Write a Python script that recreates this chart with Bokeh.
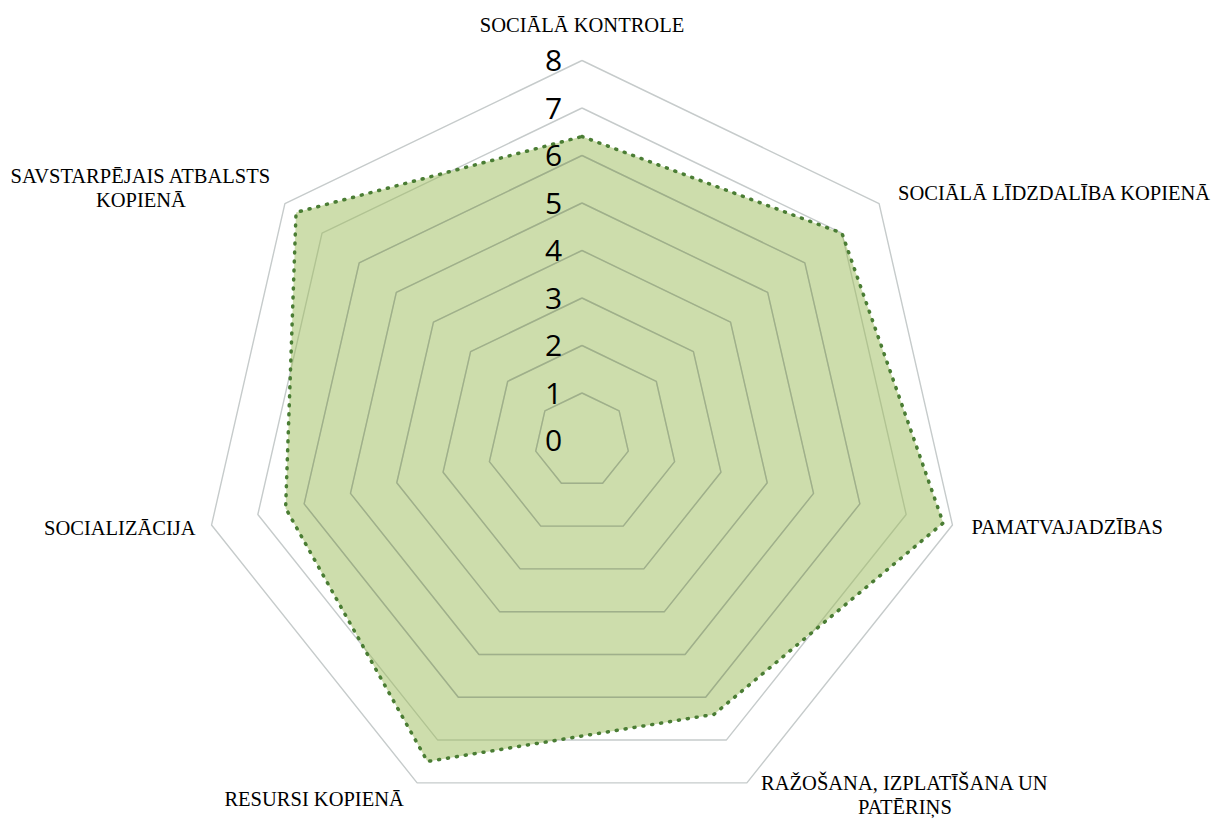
import math
from bokeh.plotting import figure
from bokeh.models import Range1d, ColumnDataSource
from bokeh.core.properties import value
from bokeh.embed import file_html
from bokeh.resources import INLINE

# ---- data ----
categories = [
    "SOCIĀLĀ KONTROLE",
    "SOCIĀLĀ LĪDZDALĪBA KOPIENĀ",
    "PAMATVAJADZĪBAS",
    "RAŽOŠANA, IZPLATĪŠANA UN\nPATĒRIŅS",
    "RESURSI KOPIENĀ",
    "SOCIALIZĀCIJA",
    "SAVSTARPĒJAIS ATBALSTS\nKOPIENĀ",
]
scores = [6.4, 7.0, 7.8, 6.4, 7.5, 6.4, 7.7]
tick_values = [0, 1, 2, 3, 4, 5, 6, 7, 8]
tick_labels = ["0", "1", "2", "3", "4", "5", "6", "7", "8"]

# ---- geometry ----
W, H = 1216, 819
PX = 47.5              # pixels per unit
CX, CY = 581.5, 440.0  # centre in figure pixels (from top-left)
n = len(categories)
angles = [2 * math.pi * k / n for k in range(n)]

def pt(r, a):
    return r * math.sin(a), r * math.cos(a)

p = figure(width=W, height=H, output_backend="svg", toolbar_location=None,
           x_range=Range1d(-CX / PX, (W - CX) / PX),
           y_range=Range1d(-(H - CY) / PX, CY / PX),
           min_border=0, outline_line_color=None)
p.axis.visible = False
p.grid.visible = False
p.background_fill_color = "white"
p.border_fill_color = "white"

def ring(t):
    xs = [pt(t, a)[0] for a in angles] + [pt(t, angles[0])[0]]
    ys = [pt(t, a)[1] for a in angles] + [pt(t, angles[0])[1]]
    return xs, ys

rmax = max(tick_values)
all_rings = [ring(t) for t in tick_values[1:]]
p.multi_line([r[0] for r in all_rings], [r[1] for r in all_rings],
             line_color="#C6CBCB", line_width=1.4)

# data polygon
dx = [pt(v, a)[0] for v, a in zip(scores, angles)]
dy = [pt(v, a)[1] for v, a in zip(scores, angles)]
p.patch(dx, dy, fill_color="#9BBB59", fill_alpha=0.5, line_color=None)

# grid rings seen through the fill
inner = [ring(t) for t in tick_values[1:] if t < min(scores)]
p.multi_line([r[0] for r in inner], [r[1] for r in inner],
             line_color="#8E9C84", line_alpha=0.5, line_width=1.4)

p.line(dx + [dx[0]], dy + [dy[0]], line_color="#4A7D34", line_width=3.5,
       line_dash="1 8", line_cap="round")

# tick labels
p.text(x=[-28.5 / PX] * len(tick_values), y=tick_values, text=tick_labels,
       text_font=value("Open Sans"), text_font_size="30px", text_color="black",
       text_align="center", text_baseline="middle")

# category labels (pixel offsets from outer vertex)
offsets = [(0, -36, "center"), (19, -11, "left"), (19, 2, "left"),
           (158, 0, "center"), (-103, 16, "center"), (-16, 3, "right"),
           (-144, -28, "center")]
line_gap = 24
lx, ly, lt, la = [], [], [], []
for cat, a, (ox, oy, al) in zip(categories, angles, offsets):
    vx, vy = pt(rmax, a)
    for i, line in enumerate(cat.split("\n")):
        lx.append(vx + ox / PX)
        ly.append(vy - (oy + i * line_gap) / PX)
        lt.append(line)
        la.append(al)
src = ColumnDataSource(dict(x=lx, y=ly, text=lt, align=la))
p.text(x="x", y="y", text="text", text_align="align", source=src,
       text_font=value("Liberation Serif"), text_font_size="20.5px",
       text_color="black", text_baseline="middle")

open("out.html", "w").write(file_html(p, INLINE))
